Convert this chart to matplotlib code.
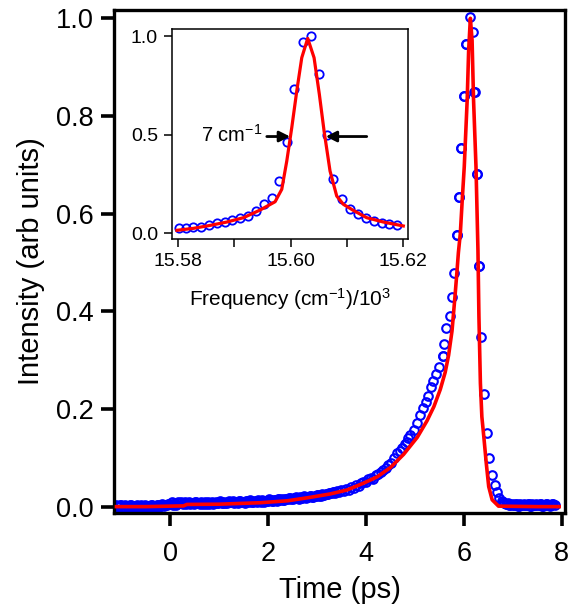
import numpy as np
import matplotlib
matplotlib.use("Agg")
import matplotlib.pyplot as plt

plt.rcParams['font.family'] = ['Liberation Sans', 'DejaVu Sans']
plt.rcParams['mathtext.fontset'] = 'custom'
plt.rcParams['mathtext.rm'] = 'Liberation Sans'
plt.rcParams['mathtext.it'] = 'Liberation Sans:italic'
plt.rcParams['mathtext.bf'] = 'Liberation Sans:bold'

# ---------------- main panel data: time (ps) vs intensity ----------------
t_data = [
    -1.10, -1.05, -1.00, -0.95, -0.90, -0.85, -0.80, -0.75, -0.70, -0.65, -0.60,
    -0.55, -0.50, -0.45, -0.40, -0.35, -0.30, -0.25, -0.20, -0.15, -0.10, -0.05,
    0.00, 0.05, 0.10, 0.15, 0.20, 0.25, 0.30, 0.35, 0.40, 0.45,
    0.50, 0.55, 0.60, 0.65, 0.70, 0.75, 0.80, 0.85, 0.90, 0.95,
    1.00, 1.05, 1.10, 1.15, 1.20, 1.25, 1.30, 1.35, 1.40, 1.45,
    1.50, 1.55, 1.60, 1.65, 1.70, 1.75, 1.80, 1.85, 1.90, 1.95,
    2.00, 2.05, 2.10, 2.15, 2.20, 2.25, 2.30, 2.35, 2.40, 2.45,
    2.50, 2.55, 2.60, 2.65, 2.70, 2.75, 2.80, 2.85, 2.90, 2.95,
    3.00, 3.05, 3.10, 3.15, 3.20, 3.25, 3.30, 3.35,
    3.40, 3.45, 3.50, 3.55, 3.60, 3.65, 3.70, 3.75, 3.80, 3.85,
    3.90, 3.95, 4.00, 4.05, 4.10, 4.15, 4.20, 4.25, 4.30, 4.35, 4.40,
    4.46, 4.51, 4.57, 4.64, 4.69, 4.74, 4.79, 4.83, 4.87, 4.91,
    4.98, 5.05, 5.11, 5.16, 5.22, 5.27, 5.32, 5.38, 5.44, 5.49,
    5.58, 5.60, 5.64, 5.71, 5.76, 5.81, 5.86, 5.91, 5.95, 6.00,
    6.05, 6.12, 6.18, 6.22, 6.27, 6.31, 6.35, 6.42, 6.48, 6.52,
    6.58, 6.63, 6.68, 6.73,
    6.78, 6.83, 6.88, 6.93, 6.98, 7.03, 7.08, 7.13, 7.18, 7.23,
    7.28, 7.33, 7.38, 7.43, 7.48, 7.53, 7.58, 7.63, 7.68, 7.73,
    7.78, 7.83,
]
i_data = [
    0.004, 0.001, 0.003, 0.000, 0.002, -0.001, 0.003, 0.001, 0.000, 0.002, 0.004,
    0.001, -0.001, 0.002, 0.003, 0.000, 0.001, 0.003, 0.002, 0.004, 0.003, 0.005,
    0.006, 0.004, 0.007, 0.009, 0.008, 0.006, 0.010, 0.007, 0.005, 0.008,
    0.009, 0.007, 0.006, 0.008, 0.010, 0.008, 0.006, 0.009, 0.007, 0.008,
    0.009, 0.007, 0.010, 0.008, 0.011, 0.009, 0.008, 0.010, 0.012, 0.009,
    0.010, 0.011, 0.009, 0.012, 0.010, 0.011, 0.013, 0.010, 0.012, 0.011,
    0.012, 0.014, 0.011, 0.013, 0.015, 0.013, 0.014, 0.016, 0.015, 0.017,
    0.016, 0.018, 0.017, 0.019, 0.018, 0.020, 0.019, 0.021, 0.020, 0.022,
    0.023, 0.022, 0.025, 0.024, 0.026, 0.028, 0.027, 0.030,
    0.031, 0.029, 0.034, 0.033, 0.037, 0.035, 0.040, 0.039, 0.044, 0.042,
    0.048, 0.051, 0.050, 0.056, 0.058, 0.057, 0.064, 0.066, 0.070, 0.074, 0.079,
    0.085, 0.090, 0.099, 0.109, 0.113, 0.120, 0.128, 0.133, 0.141, 0.147,
    0.157, 0.171, 0.188, 0.201, 0.215, 0.227, 0.244, 0.258, 0.271, 0.285,
    0.308, 0.334, 0.366, 0.390, 0.430, 0.479, 0.556, 0.635, 0.734, 0.841,
    0.947, 1.002, 0.972, 0.849, 0.681, 0.493, 0.347, 0.231, 0.151, 0.100,
    0.064, 0.044, 0.029, 0.017,
    0.011, 0.008, 0.006, 0.004, 0.006, 0.003, 0.005, 0.002, 0.004, 0.006,
    0.003, 0.005, 0.002, 0.004, 0.006, 0.003, 0.005, 0.002, 0.006, 0.004,
    0.003, 0.005,
]
# interleaved samples of the dense low-intensity band
t_band = [
    -1.075, -1.025, -0.975, -0.925, -0.875, -0.825, -0.775, -0.725, -0.675, -0.625,
    -0.575, -0.525, -0.475, -0.425, -0.375, -0.325, -0.275, -0.225, -0.175, -0.125,
    -0.075, -0.025, 0.025, 0.075, 0.125, 0.175, 0.225, 0.275, 0.325, 0.375,
    0.425, 0.475, 0.525, 0.575, 0.625, 0.675, 0.725, 0.775, 0.825, 0.875,
    0.925, 0.975, 1.025, 1.075, 1.125, 1.175, 1.225, 1.275, 1.325, 1.375,
    1.425, 1.475, 1.525, 1.575, 1.625, 1.675, 1.725, 1.775, 1.825, 1.875,
    1.925, 1.975, 2.025, 2.075, 2.125, 2.175, 2.225, 2.275, 2.325, 2.375,
    2.425, 2.475, 2.525, 2.575, 2.625, 2.675, 2.725, 2.775, 2.825, 2.875,
    2.925, 2.975, 3.025, 3.075, 3.125, 3.175, 3.225, 3.275, 3.325, 3.375,
    6.805, 6.855, 6.905, 6.955, 7.005, 7.055, 7.105, 7.155, 7.205, 7.255,
    7.305, 7.355, 7.405, 7.455, 7.505, 7.555, 7.605, 7.655, 7.705, 7.755,
    7.805, 7.855,
]
i_band = [
    0.000, 0.003, -0.002, 0.004, 0.001, 0.003, -0.001, 0.002, 0.004, 0.000,
    0.002, 0.003, 0.001, -0.001, 0.004, 0.002, 0.003, 0.000, 0.005, 0.002,
    0.004, 0.006, 0.009, 0.006, 0.004, 0.007, 0.010, 0.008, 0.005, 0.009,
    0.008, 0.006, 0.010, 0.007, 0.009, 0.006, 0.005, 0.009, 0.008, 0.006,
    0.010, 0.007, 0.011, 0.008, 0.007, 0.010, 0.009, 0.011, 0.010, 0.008,
    0.012, 0.010, 0.008, 0.011, 0.013, 0.009, 0.012, 0.010, 0.011, 0.013,
    0.010, 0.012, 0.015, 0.012, 0.014, 0.012, 0.016, 0.015, 0.013, 0.016,
    0.018, 0.015, 0.017, 0.019, 0.016, 0.018, 0.021, 0.018, 0.020, 0.022,
    0.019, 0.021, 0.024, 0.021, 0.023, 0.026, 0.025, 0.027, 0.029, 0.028,
    0.009, 0.005, 0.007, 0.003, 0.004, 0.006, 0.002, 0.005, 0.003, 0.004,
    0.006, 0.002, 0.005, 0.003, 0.004, 0.006, 0.002, 0.004, 0.005, 0.002,
    0.006, 0.003,
]
# extra peak-top circles
t_peak_extra = [6.053, 5.998, 6.217, 5.945, 6.272, 5.910, 5.863, 6.305, 5.577]
i_peak_extra = [0.947, 0.841, 0.849, 0.734, 0.681, 0.635, 0.556, 0.493, 0.308]

t_fit = [-1.10, -0.50, 0.00, 0.27, 0.34, 1.00, 1.84, 2.40, 2.86, 3.27, 3.61,
         3.95, 4.23, 4.50, 4.77, 5.05, 5.25, 5.39, 5.52, 5.62, 5.69, 5.76,
         5.82, 5.86, 5.89, 5.93, 5.97, 6.01, 6.07, 6.10, 6.135, 6.17, 6.20,
         6.25, 6.29, 6.31, 6.34, 6.37, 6.41, 6.46, 6.51, 6.58, 6.71, 7.50, 7.95]
i_fit = [0.000, 0.000, 0.001, 0.0015, 0.0045, 0.005, 0.008, 0.012, 0.019, 0.026, 0.034,
         0.048, 0.061, 0.080, 0.107, 0.142, 0.176, 0.205, 0.240, 0.275, 0.310, 0.360,
         0.430, 0.480, 0.520, 0.560, 0.630, 0.696, 0.833, 0.935, 1.000, 0.955, 0.833,
         0.696, 0.525, 0.389, 0.253, 0.184, 0.143, 0.089, 0.041, 0.014, 0.001, 0.000, 0.000]

# ---------------- inset data: frequency (cm^-1 / 10^3) ----------------
f_data = [15.58006, 15.58142, 15.58272, 15.58403, 15.58551, 15.58688, 15.58836,
          15.58966, 15.59108, 15.59250, 15.59387, 15.59529, 15.59666, 15.59801,
          15.59932, 15.60068, 15.60217, 15.60359, 15.60512, 15.60655, 15.60761,
          15.60910, 15.61058, 15.61206, 15.61342, 15.61490, 15.61621, 15.61756,
          15.61898]
s_data = [0.024, 0.027, 0.032, 0.032, 0.041, 0.052, 0.054, 0.064, 0.078, 0.086,
          0.112, 0.146, 0.176, 0.264, 0.464, 0.729, 0.970, 1.000, 0.805, 0.497,
          0.276, 0.174, 0.120, 0.095, 0.078, 0.061, 0.049, 0.044, 0.039]

f_fit = [15.57977, 15.58272, 15.58569, 15.58865, 15.59161, 15.59458, 15.59724,
         15.59843, 15.59932, 15.60021, 15.60110, 15.60199, 15.60305, 15.60418,
         15.60512, 15.60596, 15.60702, 15.60821, 15.60939, 15.61117, 15.61354,
         15.61650, 15.62006]
s_fit = [0.014, 0.024, 0.039, 0.056, 0.078, 0.117, 0.159, 0.222, 0.365, 0.535,
         0.721, 0.890, 0.988, 0.890, 0.704, 0.518, 0.315, 0.188, 0.146, 0.115,
         0.078, 0.056, 0.036]

fwhm_label = "7 cm$^{\\mathrm{-}1}$"
arrow_left = (15.59577, 15.59991)   # tail, head
arrow_right = (15.61355, 15.60626)  # tail, head
arrow_y = 0.49

BLUE = '#0000ff'
RED = '#ff0000'

fig = plt.figure(figsize=(5.69, 6.07), dpi=100)
ax = fig.add_axes([0.2004, 0.1549, 0.7926, 0.8286])

mk = dict(linestyle='none', marker='o', mfc='none', mec=BLUE, ms=6.2, mew=1.5, zorder=2)
ax.plot(t_band, i_band, **mk)
ax.plot(t_data, i_data, **mk)
ax.plot(t_peak_extra, i_peak_extra, **mk)
ax.plot(t_fit, i_fit, '-', color=RED, lw=2.6, zorder=3)

ax.set_xlim(-1.15, 8.07)
ax.set_ylim(-0.013, 1.017)
ax.set_xticks([0, 2, 4, 6, 8])
ax.set_yticks([0.0, 0.2, 0.4, 0.6, 0.8, 1.0])
ax.set_yticklabels(['0.0', '0.2', '0.4', '0.6', '0.8', '1.0'])
for s in ax.spines.values():
    s.set_linewidth(2.4)
ax.tick_params(direction='out', length=9.5, width=2.6, labelsize=19.5, pad=5)
ax.tick_params(axis='x', pad=11)
ax.set_xlabel('Time (ps)', fontsize=21, labelpad=6)
ax.set_ylabel('Intensity (arb units)', fontsize=21, labelpad=8)

# ---------------- inset ----------------
axi = fig.add_axes([0.3023, 0.6063, 0.4148, 0.346])
axi.set_facecolor('white')
axi.plot(f_data, s_data, 'o', mfc='none', mec=BLUE, ms=6.0, mew=1.3, zorder=2)
axi.plot(f_fit, s_fit, '-', color=RED, lw=2.3, zorder=3)
axi.set_xlim(15.5789, 15.6209)
axi.set_ylim(-0.03, 1.036)
axi.set_xticks([15.58, 15.59, 15.60, 15.61, 15.62])
axi.set_xticklabels(['15.58', '', '15.60', '', '15.62'])
axi.set_yticks([0.0, 0.5, 1.0])
axi.set_yticklabels(['0.0', '0.5', '1.0'])
for s in axi.spines.values():
    s.set_linewidth(1.1)
axi.tick_params(direction='out', length=6, width=1.1, labelsize=14, pad=4)
axi.set_xlabel('Frequency (cm$^{\\mathrm{-}1}$)/10$^{3}$', fontsize=15, labelpad=12)

axi.annotate('', xy=(arrow_left[1], arrow_y), xytext=(arrow_left[0], arrow_y),
             arrowprops=dict(arrowstyle='-|>', color='black', lw=2.0,
                             mutation_scale=16, shrinkA=0, shrinkB=0), zorder=4)
axi.annotate('', xy=(arrow_right[1], arrow_y), xytext=(arrow_right[0], arrow_y),
             arrowprops=dict(arrowstyle='-|>', color='black', lw=2.0,
                             mutation_scale=16, shrinkA=0, shrinkB=0), zorder=4)
axi.text(arrow_left[0] - 0.0008, arrow_y + 0.01, fwhm_label, fontsize=14.5,
         ha='right', va='center')

fig.savefig('out.png', dpi=100)
